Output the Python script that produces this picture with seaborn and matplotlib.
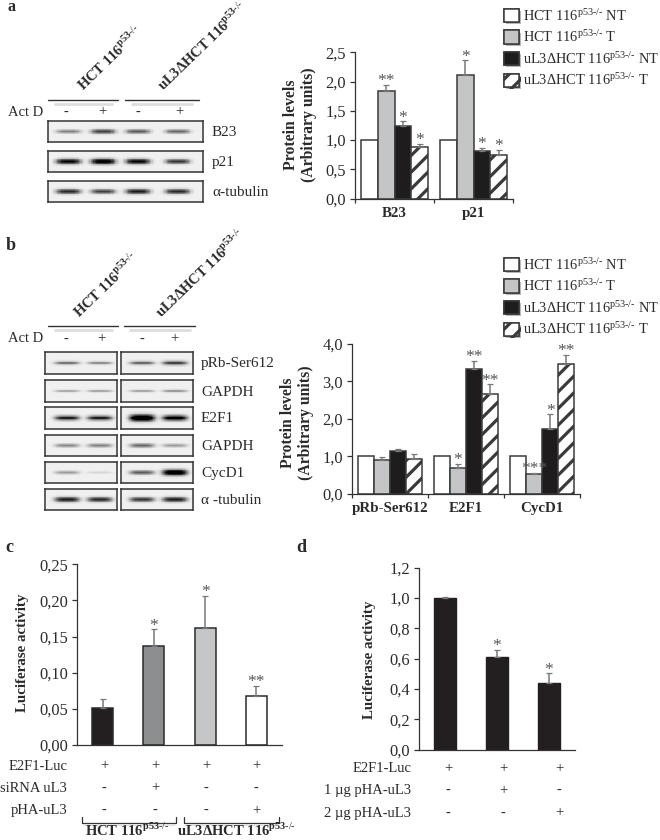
import numpy as np
import pandas as pd
import seaborn as sns
import matplotlib.pyplot as plt
import matplotlib.patheffects as pe
from matplotlib.lines import Line2D
from matplotlib.patches import Patch

# ---- datos ----
series = ["nt", "t", "ko_nt", "ko_t"]
hct = r"HCT 116$^{\text{p53-/-}}$"
ko = r"uL3ΔHCT 116$^{\text{p53-/-}}$"
hct_b = r"HCT 116$^{\mathbf{p53}\text{-/-}}$"
ko_b = r"uL3ΔHCT 116$^{\mathbf{p53}\text{-/-}}$"
legend_labels = [hct + " NT", hct + " T", ko + " NT", ko + " T"]
colores = {"nt": "#ffffff", "t": "#c3c5c7", "ko_nt": "#1f1c1d", "ko_t": "#ffffff"}

# panel a
cats_a = ["B23", "p21"]
a_nt = [1.0, 1.0]
a_t = [1.84, 2.12]
a_ko_nt = [1.24, 0.82]
a_ko_t = [0.88, 0.74]
a_nt_err = [0, 0]
a_t_err = [0.11, 0.24]
a_ko_nt_err = [0.08, 0.05]
a_ko_t_err = [0.05, 0.10]
a_stars = ["", "", "**", "*", "*", "*", "*", "*"]
yticks_a = [0, 0.5, 1.0, 1.5, 2.0, 2.5]
ylabels_a = ["0,0", "0,5", "1,0", "1,5", "2,0", "2,5"]

# panel b
cats_b = ["pRb-Ser612", "E2F1", "CycD1"]
b_nt = [1.0, 1.0, 1.0]
b_t = [0.91, 0.69, 0.535]
b_ko_nt = [1.13, 3.32, 1.73]
b_ko_t = [0.94, 2.66, 3.47]
b_nt_err = [0, 0, 0]
b_t_err = [0.06, 0.10, 0.015]
b_ko_nt_err = [0.07, 0.23, 0.39]
b_ko_t_err = [0.11, 0.26, 0.23]
b_stars = ["", "", "", "", "*", "***", "", "**", "*", "", "**", "**"]
yticks_b = [0, 1, 2, 3, 4]
ylabels_b = ["0,0", "1,0", "2,0", "3,0", "4,0"]

# panel c
cats_c = ["c1", "c2", "c3", "c4"]
c_vals = [0.051, 0.1365, 0.162, 0.0675]
c_err = [0.0128, 0.0235, 0.044, 0.014]
c_stars = ["", "*", "*", "**"]
c_colores = ["#231f20", "#8c8e90", "#c4c6c8", "#ffffff"]
yticks_c = [0, 0.05, 0.10, 0.15, 0.20, 0.25]
ylabels_c = ["0,00", "0,05", "0,10", "0,15", "0,20", "0,25"]

# panel d
cats_d = ["d1", "d2", "d3"]
d_vals = [1.0, 0.61, 0.44]
d_err = [0.004, 0.05, 0.063]
d_stars = ["", "*", "*"]
yticks_d = [0, 0.2, 0.4, 0.6, 0.8, 1.0, 1.2]
ylabels_d = ["0,0", "0,2", "0,4", "0,6", "0,8", "1,0", "1,2"]

# intensidad de las bandas de los western blots (una por carril)
blot_a = {"B23": [0.45, 0.7, 0.6, 0.55], "p21": [0.95, 1.05, 0.95, 0.75], "α-tubulin": [0.8, 0.7, 0.85, 0.8]}
blot_b = {
    "pRb-Ser612": [0.5, 0.4, 0.55, 0.7],
    "GAPDH": [0.28, 0.3, 0.3, 0.35],
    "E2F1": [0.85, 0.85, 1.35, 1.05],
    "GAPDH ": [0.42, 0.45, 0.55, 0.35],
    "CycD1": [0.35, 0.12, 0.6, 1.15],
    "α -tubulin": [0.85, 0.8, 0.75, 0.85],
}

# ---- estilo ----
sns.set_theme(style="ticks")
plt.rcParams["font.family"] = ["Liberation Serif", "DejaVu Sans"]
plt.rcParams["mathtext.fontset"] = "custom"
plt.rcParams["mathtext.rm"] = "Liberation Serif"
plt.rcParams["mathtext.bf"] = "Liberation Serif:bold"
plt.rcParams["hatch.linewidth"] = 2.3
plt.rcParams["hatch.color"] = "#1f1c1d"

W, H = 660, 840
TXT = "#2a2a2a"
GRIS = "#77787a"
fig = plt.figure(figsize=(W / 100, H / 100), dpi=100)


def ejes(x0, y0, x1, y1):
    return fig.add_axes([x0 / W, 1 - y1 / H, (x1 - x0) / W, (y1 - y0) / H])


def texto(x, y, s, **kw):
    kw.setdefault("color", TXT)
    kw.setdefault("fontsize", 10.5)
    kw.setdefault("va", "center")
    fig.text(x / W, 1 - y / H, s, **kw)


def linea(xs, ys, color="#333333", lw=1.0):
    fig.add_artist(Line2D([x / W for x in xs], [1 - y / H for y in ys], color=color, lw=lw))


def estilo_ejes(ax, yticks, ylabels, ymax):
    ax.set_ylim(0, ymax)
    ax.set_yticks(yticks)
    ax.set_yticklabels(ylabels, fontsize=11.8, color=TXT)
    ax.tick_params(axis="y", length=3.5, width=0.9, color="#333333", pad=3)
    ax.set_xlabel("")
    ax.set_ylabel("")
    sns.despine(ax=ax)
    for s in ["left", "bottom"]:
        ax.spines[s].set_color("#333333")
        ax.spines[s].set_linewidth(0.9)


def errores(ax, errs, stars, star_dy=-3):
    bars = [b for cont in ax.containers for b in cont]
    for b, e, st in zip(bars, errs, stars):
        x = b.get_x() + b.get_width() / 2
        top = b.get_height()
        if e > 0:
            ax.errorbar(x, top, yerr=[[0], [e]], color=GRIS, capsize=2, elinewidth=1.1, capthick=0.9, zorder=1)
        if st:
            ax.annotate(st, (x, top + e), xytext=(0, star_dy), textcoords="offset points", ha="center",
                        va="bottom", fontsize=12.5, color="#555555", annotation_clip=False)


def grupos(ax, cats, tablas, errs, stars):
    df = pd.DataFrame({
        "cat": cats * len(series),
        "serie": [s for s in series for _ in cats],
        "valor": sum(tablas, []),
    })
    sns.barplot(data=df, x="cat", y="valor", hue="serie", hue_order=series, palette=colores, width=0.855, gap=0,
                errorbar=None, legend=False, edgecolor="#3a3a3a", linewidth=1.1, saturation=1, ax=ax)
    for b in ax.containers[3]:
        b.set_hatch("//")
    n = len(cats)
    ax.set_xlim(-0.5, n - 0.5)
    ax.set_xticks(np.arange(n + 1) - 0.5)
    ax.set_xticklabels([])
    ax.set_xticks(np.arange(n), labels=cats, minor=True)
    ax.tick_params(axis="x", which="major", length=3, width=0.9, color="#333333")
    ax.tick_params(axis="x", which="minor", length=0, pad=6)
    for t in ax.get_xticklabels(minor=True):
        t.set_fontweight("bold")
        t.set_fontsize(10.8)
        t.set_color(TXT)
    errores(ax, errs, stars)


def leyenda(y_top):
    handles = []
    for s, lab in zip(series, legend_labels):
        p = Patch(facecolor=colores[s], edgecolor="#3a3a3a", linewidth=1.1, label=lab,
                  hatch="//" if s == "ko_t" else None)
        p.set_path_effects([pe.withSimplePatchShadow(offset=(1.5, -1.5), shadow_rgbFace="#999999", alpha=0.7),
                            pe.Normal()])
        handles.append(p)
    fig.legend(handles=handles, loc="upper left", bbox_to_anchor=(504 / W, 1 - y_top / H), frameon=False,
               fontsize=10.4, labelspacing=0.34, handlelength=1.05, handleheight=1.05, handletextpad=0.25,
               borderaxespad=0, borderpad=0, labelcolor=TXT)


def blot(x0, y0, x1, y1, carriles, fuerzas):
    # imagen de la banda, dibujada como heatmap gris
    ax = ejes(x0, y0, x1, y1)
    xx = np.linspace(x0, x1, 120)
    yy = np.linspace(y0, y1, 30)
    img = np.full((30, 120), 0.06)
    yc = (y0 + y1) / 2
    for c, f in zip(carriles, fuerzas):
        perfil = np.exp(-((xx - c) / 12.5) ** 4)
        alto = 1.0 + 1.7 * f
        img += f * np.outer(np.exp(-((yy - yc) / alto) ** 2), perfil)
    sns.heatmap(img, cmap="gray_r", vmin=0, vmax=1, cbar=False, xticklabels=False, yticklabels=False, ax=ax)
    for s in ax.spines.values():
        s.set_visible(True)
        s.set_color("#333333")
        s.set_linewidth(1.1)


# ---- panel a ----
ax_a = ejes(355, 52.3, 513, 198.7)
grupos(ax_a, cats_a, [a_nt, a_t, a_ko_nt, a_ko_t],
       a_nt_err + a_t_err + a_ko_nt_err + a_ko_t_err, a_stars)
estilo_ejes(ax_a, yticks_a, ylabels_a, 2.5)
leyenda(7)
texto(300, 125, "Protein levels\n(Arbitrary units)", rotation=90, ha="center", fontweight="bold", linespacing=1.1, fontsize=11.3)

texto(7, 11, "a", fontweight="bold", fontsize=11.5, va="baseline")
texto(43, 112, "Act D", ha="right")
for x, s in zip([66, 102, 138, 179], ["-", "+", "-", "+"]):
    texto(x, 112, s, ha="center")
linea([48, 118], [99.5, 99.5])
linea([125, 199], [99.5, 99.5])
linea([55, 112], [104, 104], color="#dddddd", lw=2)
linea([132, 192], [104, 104], color="#dddddd", lw=2)
for x, y, s in [(84, 92, hct_b), (164, 92, ko_b)]:
    texto(x, y, s, rotation=44, rotation_mode="anchor", ha="left", va="baseline", fontweight="bold", fontsize=10.5)
for (nombre, f), (y0, y1) in zip(blot_a.items(), [(121, 142), (151, 172), (181, 202)]):
    blot(48, y0, 203, y1, [68, 103, 138, 178], f)
    texto(212, (y0 + y1) / 2 + 1, nombre, fontsize=11)

# ---- panel b ----
ax_b = ejes(352, 344, 580, 493.7)
grupos(ax_b, cats_b, [b_nt, b_t, b_ko_nt, b_ko_t],
       b_nt_err + b_t_err + b_ko_nt_err + b_ko_t_err, b_stars)
estilo_ejes(ax_b, yticks_b, ylabels_b, 4)
leyenda(256)
texto(297, 423, "Protein levels\n(Arbitrary units)", rotation=90, ha="center", fontweight="bold", linespacing=1.1, fontsize=11.3)

texto(6, 245, "b", fontweight="bold", fontsize=13)
texto(43, 339, "Act D", ha="right")
for x, s in zip([66, 101, 142, 174], ["-", "+", "-", "+"]):
    texto(x, 339, s, ha="center")
linea([48, 118], [325.7, 325.7])
linea([124, 195], [325.7, 325.7])
linea([55, 112], [330, 330], color="#dddddd", lw=2)
linea([130, 190], [330, 330], color="#dddddd", lw=2)
for x, y, s in [(80, 319, hct_b), (162, 319, ko_b)]:
    texto(x, y, s, rotation=44, rotation_mode="anchor", ha="left", va="baseline", fontweight="bold", fontsize=10.5)
filas_b = [(352, 374), (380, 402), (407, 429), (435, 456), (462, 483), (489, 510)]
for (nombre, f), (y0, y1) in zip(blot_b.items(), filas_b):
    blot(45, y0, 117, y1, [67, 100], f[:2])
    blot(121, y0, 193, y1, [142, 175], f[2:])
    texto(201, (y0 + y1) / 2 + 1, nombre.strip(), fontsize=11)

# ---- panel c ----
ax_c = ejes(77, 564.3, 282, 745)
sns.barplot(x=cats_c, y=c_vals, hue=cats_c, palette=c_colores, width=0.405, errorbar=None, legend=False,
            edgecolor="#2a2a2a", linewidth=1.1, saturation=1, ax=ax_c)
ax_c.set_xlim(-0.5, 3.5)
ax_c.set_xticks([])
errores(ax_c, c_err, c_stars)
estilo_ejes(ax_c, yticks_c, ylabels_c, 0.25)
texto(23, 653, "Luciferase activity", rotation=90, ha="center", fontweight="bold", fontsize=10.8)
texto(5, 547, "c", fontweight="bold", fontsize=13)

filas_c = [("E2F1-Luc", 766, ["+", "+", "+", "+"]),
           ("siRNA uL3", 788, ["-", "+", "-", "-"]),
           ("pHA-uL3", 810.5, ["-", "-", "-", "+"])]
for nombre, y, signos in filas_c:
    texto(67, y, nombre, ha="right")
    for x, s in zip([104, 155, 206, 256], signos):
        texto(x, y, s, ha="center")
for x0, x1 in [(82, 176), (184, 279)]:
    linea([x0, x0, x1, x1], [817, 822.5, 822.5, 817], lw=0.9)
    linea([x0 + 2, x1 - 2], [825, 825], color="#e2e2e2", lw=1.5)
texto(127, 836, hct_b, ha="center", va="baseline", fontweight="bold", fontsize=10.5)
texto(237, 836, ko_b, ha="center", va="baseline", fontweight="bold", fontsize=10.5)

# ---- panel d ----
ax_d = ejes(419, 567.7, 575, 749.7)
sns.barplot(x=cats_d, y=d_vals, color="#231f20", width=0.425, errorbar=None, legend=False,
            edgecolor="#231f20", linewidth=1.0, saturation=1, ax=ax_d)
ax_d.set_xlim(-0.5, 2.5)
ax_d.set_xticks([])
errores(ax_d, d_err, d_stars)
estilo_ejes(ax_d, yticks_d, ylabels_d, 1.2)
texto(370, 660, "Luciferase activity", rotation=90, ha="center", fontweight="bold", fontsize=10.8)
texto(296, 547, "d", fontweight="bold", fontsize=13)

filas_d = [("E2F1-Luc", 768.5, ["+", "+", "+"]),
           ("1 µg pHA-uL3", 790.5, ["-", "+", "-"]),
           ("2 µg pHA-uL3", 813, ["-", "-", "+"])]
for nombre, y, signos in filas_d:
    texto(411, y, nombre, ha="right")
    for x, s in zip([448, 503, 559], signos):
        texto(x, y, s, ha="center")

fig.savefig("out.png", dpi=100)
